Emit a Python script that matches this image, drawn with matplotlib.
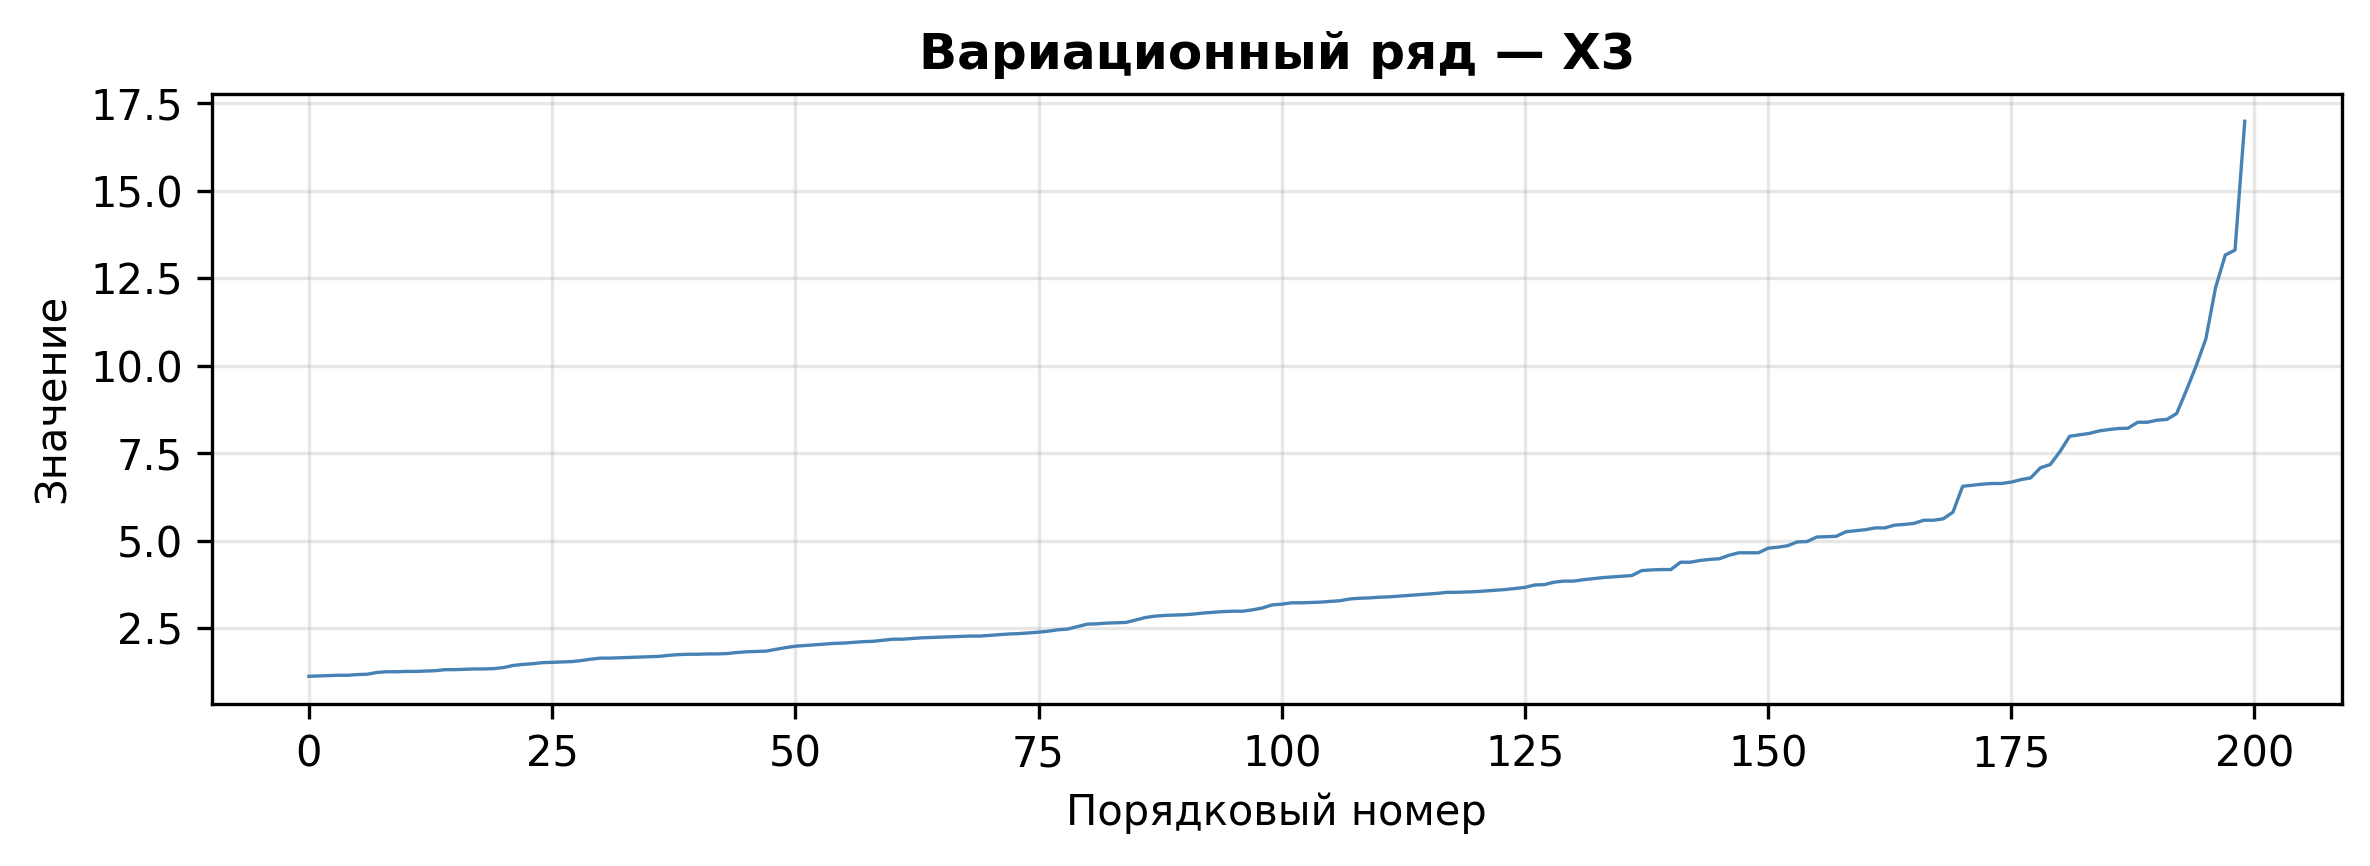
import numpy as np
import matplotlib
matplotlib.use("Agg")
import matplotlib.pyplot as plt

# Sorted sample values (variation series)
values_0_49 = [
    1.13, 1.14, 1.15, 1.16, 1.16, 1.18, 1.19, 1.24, 1.26, 1.26,
    1.27, 1.27, 1.28, 1.29, 1.32, 1.32, 1.33, 1.34, 1.34, 1.35,
    1.38, 1.44, 1.47, 1.49, 1.52, 1.53, 1.54, 1.55, 1.58, 1.62,
    1.65, 1.65, 1.66, 1.67, 1.68, 1.69, 1.70, 1.73, 1.75, 1.76,
    1.76, 1.77, 1.77, 1.78, 1.81, 1.83, 1.84, 1.85, 1.90, 1.95,
]
values_50_99 = [
    1.99, 2.01, 2.03, 2.05, 2.07, 2.08, 2.10, 2.12, 2.13, 2.16,
    2.19, 2.19, 2.21, 2.23, 2.24, 2.25, 2.26, 2.27, 2.28, 2.28,
    2.30, 2.32, 2.34, 2.35, 2.37, 2.39, 2.42, 2.46, 2.48, 2.55,
    2.62, 2.63, 2.65, 2.66, 2.67, 2.74, 2.81, 2.85, 2.87, 2.88,
    2.89, 2.91, 2.94, 2.96, 2.98, 2.99, 2.99, 3.03, 3.08, 3.17,
]
values_100_149 = [
    3.19, 3.23, 3.23, 3.24, 3.25, 3.27, 3.29, 3.34, 3.36, 3.37,
    3.39, 3.40, 3.42, 3.44, 3.46, 3.48, 3.50, 3.53, 3.53, 3.54,
    3.55, 3.57, 3.59, 3.61, 3.64, 3.67, 3.74, 3.75, 3.82, 3.85,
    3.85, 3.89, 3.92, 3.95, 3.97, 3.99, 4.01, 4.15, 4.17, 4.18,
    4.18, 4.39, 4.39, 4.44, 4.47, 4.49, 4.59, 4.66, 4.66, 4.66,
]
values_150_199 = [
    4.79, 4.82, 4.86, 4.97, 4.98, 5.11, 5.12, 5.13, 5.26, 5.29,
    5.32, 5.37, 5.37, 5.45, 5.47, 5.50, 5.59, 5.59, 5.63, 5.82,
    6.56, 6.59, 6.62, 6.64, 6.64, 6.68, 6.75, 6.80, 7.09, 7.18,
    7.55, 7.99, 8.03, 8.07, 8.14, 8.18, 8.21, 8.22, 8.39, 8.39,
    8.45, 8.47, 8.64, 9.30, 10.00, 10.77, 12.24, 13.17, 13.31, 16.99,
]

values = np.array(values_0_49 + values_50_99 + values_100_149 + values_150_199)
idx = np.arange(len(values))

fig = plt.figure(figsize=(2370 / 300, 866 / 300), dpi=300)
ax = fig.add_subplot(111)
fig.subplots_adjust(left=0.0895, right=0.988, top=0.892, bottom=0.187)

ax.plot(idx, values, color="#4682b4", linewidth=0.8)

ax.set_title("Вариационный ряд — X3", fontsize=12, fontweight="bold")
ax.set_xlabel("Порядковый номер", fontsize=10)
ax.set_ylabel("Значение", fontsize=10)
ax.tick_params(labelsize=10)
ax.grid(True, alpha=0.3)

fig.savefig("out.png", dpi=300)
